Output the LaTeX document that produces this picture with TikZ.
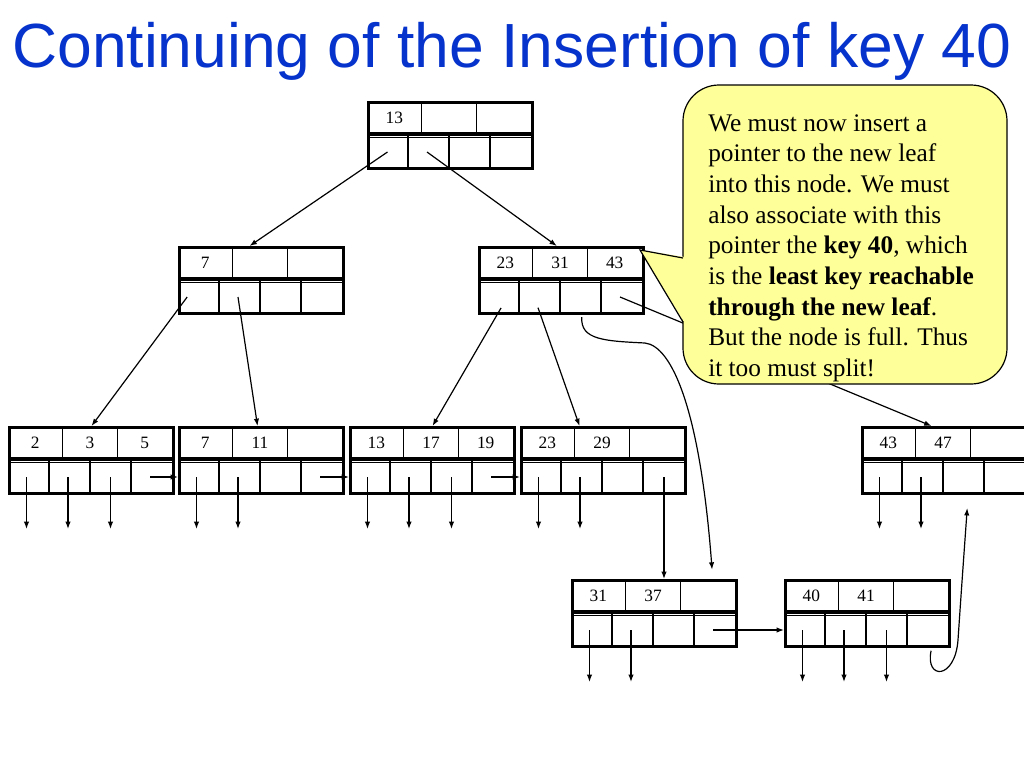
\documentclass[tikz,border=0pt]{standalone}
\usepackage{fontspec}
\setmainfont{Liberation Serif}
\newfontfamily\titlefont{Liberation Sans}
\usetikzlibrary{arrows.meta}
\definecolor{titleblue}{RGB}{5,51,204}
\definecolor{noteyellow}{RGB}{255,255,153}
\tikzset{
  keytxt/.style={inner sep=0pt, font=\fontsize{13}{15}\selectfont},
  nodeframe/.style={draw, line width=2.3pt, minimum width=123pt, minimum height=49.5pt, inner sep=0pt, anchor=north west},
  divider/.style={line width=1pt},
  sepline/.style={line width=2.4pt},
  link/.style={line width=0.9pt, -{Latex[length=5.5pt,width=4pt]}},
  plainlink/.style={line width=0.9pt},
  note/.style={fill=noteyellow, draw=black, line width=0.9pt},
}
\newcommand{\bpnode}[6]{%
  \begin{scope}[shift={(#2,#3)}]
    \draw[divider] (54.67,0) -- (54.67,33) (109.33,0) -- (109.33,33);
    \draw[divider] (41,35) -- (41,66) (82,35) -- (82,66) (123,35) -- (123,66);
    \draw[sepline] (0,33) -- (164,33);
    \draw[divider] (0,36.6) -- (164,36.6);
    \node[keytxt] (#1-k1) at (27.33,17) {#4};
    \node[keytxt] (#1-k2) at (82,17) {#5};
    \node[keytxt] (#1-k3) at (136.67,17) {#6};
    \node[nodeframe] (#1) at (0,0) {};
    \coordinate (#1-p1) at (18.5,51);
    \coordinate (#1-p2) at (60,51);
    \coordinate (#1-p3) at (102.5,51);
    \coordinate (#1-p4) at (142,51);
    \coordinate (#1-e1) at (18.5,103);
    \coordinate (#1-e2) at (60,103);
    \coordinate (#1-e3) at (102.5,103);
  \end{scope}}
\begin{document}
\begin{tikzpicture}[x=0.75pt,y=-0.75pt]
\useasboundingbox (0,0) rectangle (1024,768);

% title
\node[anchor=base west, inner sep=0pt, text=titleblue, font=\titlefont\fontsize{46.8}{54}\selectfont] (title) at (12,67) {Continuing of the Insertion of key 40};

% tree nodes
\bpnode{root}{367}{101}{13}{}{}
\bpnode{n7}{178}{246}{7}{}{}
\bpnode{n23}{478}{246}{23}{31}{43}
\bpnode{l1}{8}{426}{2}{3}{5}
\bpnode{l2}{178}{426}{7}{11}{}
\bpnode{l3}{349}{426}{13}{17}{19}
\bpnode{l4}{520}{426}{23}{29}{}
\bpnode{l43}{861}{426}{43}{47}{}
\bpnode{l31}{571}{579}{31}{37}{}
\bpnode{l40}{784}{579}{40}{41}{}

% root pointers
\draw[link] ([xshift=1.5pt]root-p1) -- ([xshift=-9pt]n7.north);
\draw[link] (root-p2) -- ([xshift=-3.5pt]n23.north);

% inner node 7
\draw[link] ([xshift=-7pt]n7-p1) -- (l1.north);
\draw[link] (n7-p2) -- ([xshift=-3pt]l2.north);

% inner node 23
\draw[link] ([xshift=3.4pt,yshift=-8.2pt]n23-p1) -- (l3.north);
\draw[link] ([yshift=-8pt]n23-p2) -- ([xshift=-18pt]l4.north);
\draw[link] ([xshift=1pt,yshift=-15pt]n23-p3) .. controls (580,340) and (605,341) .. (645,343)
   .. controls (672,346) and (700,410) .. ([xshift=-19.5pt,yshift=7pt]l31.north east);
\draw[link] (n23-p4) -- ([xshift=-9.75pt]l43.north);

% leaf pointers down
\foreach \lf/\n in {l1/3,l3/3,l40/3}{
  \foreach \i in {1,...,\n}{\draw[link] (\lf-p\i) -- (\lf-e\i);}
}
\foreach \lf in {l2,l4,l43,l31}{
  \foreach \i in {1,2}{\draw[link] (\lf-p\i) -- (\lf-e\i);}
}

% sibling pointers
\draw[link] (l1-p4) -- (l1-p4 -| l2.west);
\draw[link] (l2-p4) -- (l2-p4 -| l3.west);
\draw[link] (l3-p4) -- (l3-p4 -| l4.west);
\draw[link] (l31-p4) -- (l31-p4 -| l40.west);
\draw[link] ([xshift=1.5pt]l4-p4) -- ([xshift=1.5pt]l4-p4 |- l31.north);

% new leaf to 43/47
\draw[link] ([xshift=-15pt,yshift=-2pt]l40.south east) .. controls (925,680) and (955,680) .. (958,640)
   .. controls (962,580) and (965,540) .. ([xshift=17pt,yshift=-9.75pt]l43.south);

% callout
\path[note, rounded corners=27pt] (683,85) rectangle (1007,384);
\fill[noteyellow] (684.6,257) -- (640,250) -- (684.6,323) -- cycle;
\draw[plainlink] (683,258) -- (640,250) -- (683,322);
\node[anchor=north west, inner sep=0pt, align=left, font=\fontsize{19}{23}\selectfont] (note) at (708,114)
{We must now insert a\\
pointer to the new leaf\\
into this node. We must\\
also associate with this\\
pointer the \textbf{key 40}, which\\
is the \textbf{least key reachable}\\
\textbf{through the new leaf}.\\
But the node is full. Thus\\
it too must split!};
\end{tikzpicture}
\end{document}
